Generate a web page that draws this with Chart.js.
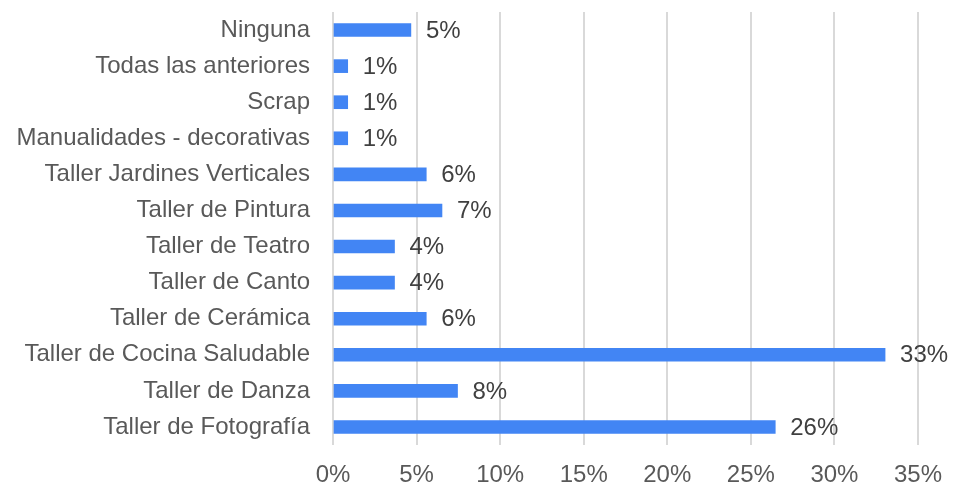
<!DOCTYPE html>
<html>
<head>
<meta charset="utf-8">
<script src="https://cdn.jsdelivr.net/npm/chart.js@4.4.1/dist/chart.umd.min.js"></script>
<style>
  html, body { margin: 0; padding: 0; background: #ffffff; }
  #wrap { width: 953px; height: 485px; position: relative; }
</style>
</head>
<body>
<div id="wrap"><canvas id="c" width="953" height="485"></canvas></div>
<script>
const categories = [
  "Ninguna",
  "Todas las anteriores",
  "Scrap",
  "Manualidades - decorativas",
  "Taller Jardines Verticales",
  "Taller de Pintura",
  "Taller de Teatro",
  "Taller de Canto",
  "Taller de Cerámica",
  "Taller de Cocina Saludable",
  "Taller de Danza",
  "Taller de Fotografía"
];
const values = [4.66, 0.88, 0.88, 0.88, 5.58, 6.52, 3.68, 3.68, 5.58, 33.03, 7.45, 26.46];
const valueLabels = ["5%", "1%", "1%", "1%", "6%", "7%", "4%", "4%", "6%", "33%", "8%", "26%"];
const xTicks = [0, 5, 10, 15, 20, 25, 30, 35];

const FONT = 'Arial, "Liberation Sans", sans-serif';
Chart.defaults.font.family = FONT;

const valueLabelPlugin = {
  id: 'valueLabels',
  afterDatasetsDraw(chart) {
    const ctx = chart.ctx;
    const meta = chart.getDatasetMeta(0);
    ctx.save();
    ctx.font = "24px " + FONT;
    ctx.fillStyle = "#404040";
    ctx.textAlign = "left";
    ctx.textBaseline = "middle";
    meta.data.forEach((bar, i) => {
      ctx.fillText(valueLabels[i], bar.x + 15, bar.y + 1);
    });
    ctx.restore();
  }
};

new Chart(document.getElementById('c'), {
  type: 'bar',
  data: {
    labels: categories,
    datasets: [{
      data: values,
      backgroundColor: '#4285F4',
      borderWidth: 0,
      barThickness: 13
    }]
  },
  options: {
    indexAxis: 'y',
    responsive: false,
    animation: false,
    devicePixelRatio: 1,
    layout: { padding: { top: 12, right: 35, left: 0, bottom: 0 } },
    plugins: {
      legend: { display: false },
      tooltip: { enabled: false }
    },
    scales: {
      x: {
        min: 0,
        max: 35,
        afterBuildTicks(scale) {
          scale.ticks = xTicks.map(v => ({ value: v }));
        },
        afterFit(scale) { scale.height = 40; scale.paddingLeft = 0; scale.paddingRight = 0; },
        grid: { color: '#d9d9d9', lineWidth: 2, drawTicks: false },
        border: { display: false },
        ticks: {
          color: '#595959',
          font: { family: FONT, size: 24 },
          padding: 16,
          maxRotation: 0,
          callback: v => v + '%'
        }
      },
      y: {
        afterFit(scale) { scale.width = 333; scale.paddingTop = 0; scale.paddingBottom = 0; },
        grid: { display: false, drawTicks: false },
        border: { display: false },
        ticks: {
          color: '#595959',
          font: { family: FONT, size: 24 },
          padding: 23
        }
      }
    }
  },
  plugins: [valueLabelPlugin]
});
</script>
</body>
</html>
